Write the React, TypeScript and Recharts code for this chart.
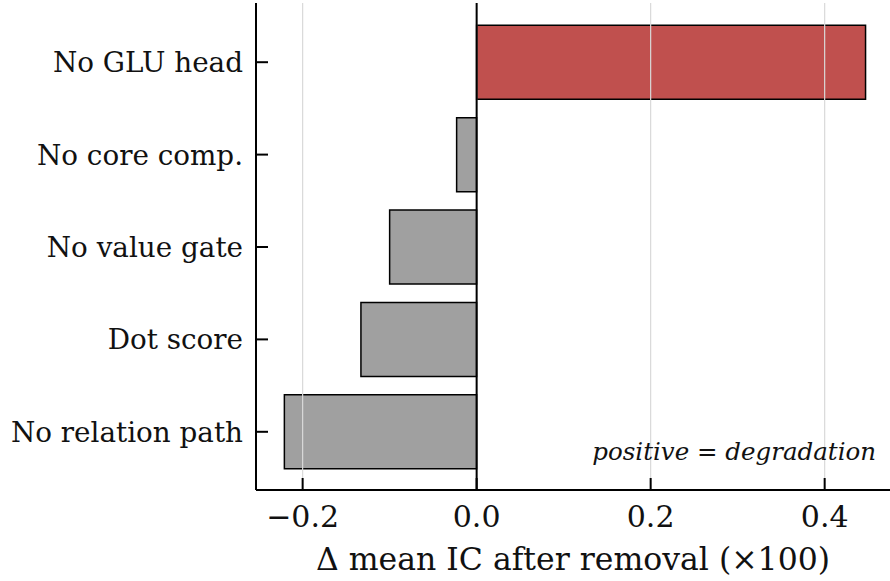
import { Bar, BarChart, Cell, ReferenceLine, XAxis, YAxis } from "recharts";

const labels = [
  "No GLU head",
  "No core comp.",
  "No value gate",
  "Dot score",
  "No relation path",
];
const deltas = [0.447, -0.023, -0.1, -0.133, -0.221];
const xTicks = [-0.2, 0, 0.2, 0.4];

const data = labels.map((name, i) => ({ name, delta: deltas[i] }));

const FONT = "'DejaVu Serif', serif";
const fmtTick = (v: number) => (v < 0 ? "\u2212" : "") + Math.abs(v).toFixed(1);

function XTick({ x, y, payload }: any) {
  return (
    <g>
      <line x1={x} x2={x} y1={y} y2={y - 12} stroke="#000" strokeWidth={2} />
      <text x={x} y={y + 37} textAnchor="middle" fontFamily={FONT} fontSize={30} fill="#111">
        {fmtTick(payload.value)}
      </text>
    </g>
  );
}

function YTick({ x, y, payload }: any) {
  return (
    <g>
      <line x1={x} x2={x + 12} y1={y} y2={y} stroke="#000" strokeWidth={2} />
      <text x={x - 13} y={y + 10} textAnchor="end" fontFamily={FONT} fontSize={27.8} fill="#111">
        {payload.value}
      </text>
    </g>
  );
}

export default function App() {
  return (
    <div style={{ position: "absolute", left: 0, top: 0, width: 890, height: 581, background: "#fff" }}>
      <BarChart
        width={890}
        height={581}
        data={data}
        layout="vertical"
        margin={{ top: 3, right: 0, left: 0, bottom: 0 }}
        barCategoryGap="10%"
      >
        <XAxis
          type="number"
          dataKey="delta"
          domain={[-0.2536, 0.4751]}
          ticks={xTicks}
          allowDataOverflow
          height={91}
          tickSize={0}
          tickMargin={0}
          tickLine={false}
          axisLine={{ stroke: "#000", strokeWidth: 2 }}
          tick={(p: any) => <XTick {...p} />}
          label={({ viewBox }: any) => (
            <text
              x={viewBox.x + viewBox.width / 2}
              y={570}
              textAnchor="middle"
              fontFamily={FONT}
              fontSize={31.5}
              fill="#111"
            >
              {"\u0394 mean IC after removal (\u00d7100)"}
            </text>
          )}
        />
        <YAxis
          type="category"
          dataKey="name"
          width={256}
          padding={{ top: 13, bottom: 12 }}
          tickSize={0}
          tickMargin={0}
          tickLine={false}
          axisLine={{ stroke: "#000", strokeWidth: 2 }}
          tick={(p: any) => <YTick {...p} />}
        />
        <Bar dataKey="delta" stroke="#000" strokeWidth={1.5} isAnimationActive={false}>
          {data.map((d) => (
            <Cell key={d.name} fill={d.delta > 0 ? "#c0504e" : "#a0a0a0"} />
          ))}
        </Bar>
        {xTicks.map((t) => (
          <ReferenceLine key={t} x={t} stroke="#d9d9d9" strokeWidth={1.2} />
        ))}
        <ReferenceLine x={0} stroke="#000" strokeWidth={2} />
      </BarChart>
      <div
        style={{
          position: "absolute",
          right: 14,
          top: 440,
          fontFamily: FONT,
          fontStyle: "italic",
          fontSize: 24.5,
          lineHeight: "24.5px",
          color: "#111",
          whiteSpace: "nowrap",
        }}
      >
        positive = degradation
      </div>
    </div>
  );
}
